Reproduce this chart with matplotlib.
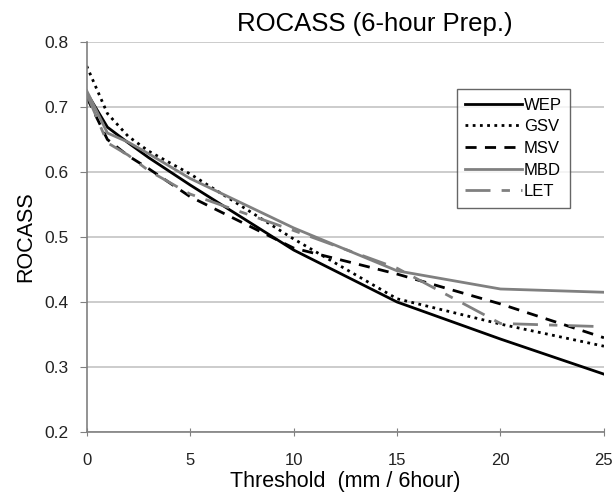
import matplotlib
matplotlib.use('Agg')
import matplotlib.pyplot as plt

plt.rcParams['font.family'] = ['Liberation Sans', 'DejaVu Sans']

# thresholds (mm / 6hour)
thresh = [0, 1, 2, 3, 5, 10, 15, 20, 25]

wep = [0.722, 0.669, 0.645, 0.622, 0.580, 0.480, 0.400, 0.343, 0.289]
gsv = [0.763, 0.690, 0.655, 0.632, 0.597, 0.497, 0.405, 0.366, 0.332]
msv = [0.715, 0.650, 0.625, 0.605, 0.562, 0.483, 0.443, 0.397, 0.345]
mbd = [0.725, 0.660, 0.646, 0.628, 0.590, 0.514, 0.448, 0.420, 0.415]
let = [0.720, 0.645, 0.626, 0.602, 0.566, 0.510, 0.452, 0.367, 0.362]

names = ['WEP', 'GSV', 'MSV', 'MBD', 'LET']
series = [wep, gsv, msv, mbd, let]
colors = ['black', 'black', 'black', '#808080', '#808080']
styles = ['-', (0, (1, 1.6)), (0, (4, 3)), '-', (0, (9, 4, 3, 4))]

fig = plt.figure(figsize=(6.15, 5.0), dpi=100)
ax = fig.add_axes([0.141, 0.136, 0.841, 0.780])

for n, s, c, ls in zip(names, series, colors, styles):
    ax.plot(thresh, s, color=c, linestyle=ls, lw=2, label=n)

ax.set_xlim(0, 25)
ax.set_ylim(0.2, 0.8)
ax.set_xticks([0, 5, 10, 15, 20, 25])
ax.set_yticks([0.2, 0.3, 0.4, 0.5, 0.6, 0.7, 0.8])
ax.set_yticklabels(['0.2', '0.3', '0.4', '0.5', '0.6', '0.7', '0.8'])
ax.yaxis.grid(True, color='#c8c8c8', lw=1.3)
ax.set_axisbelow(True)
for sp in ['top', 'right']:
    ax.spines[sp].set_visible(False)
for sp in ['left', 'bottom']:
    ax.spines[sp].set_color('#808080')
    ax.spines[sp].set_linewidth(1.2)
ax.tick_params(axis='x', direction='inout', length=6, color='#808080', labelsize=12,
               labelcolor='#222222', pad=12)
ax.tick_params(axis='y', direction='out', length=5, color='#808080', labelsize=12.5,
               labelcolor='#222222', pad=8)

ax.set_xlabel('Threshold  (mm / 6hour)', fontsize=15.5, labelpad=2)
ax.set_ylabel('ROCASS', fontsize=15.5, labelpad=6)
fig.text(0.61, 0.953, 'ROCASS (6-hour Prep.)', fontsize=18.5, ha='center', va='center')

leg = ax.legend(loc='upper left', bbox_to_anchor=(0.70, 0.90), fontsize=12,
                frameon=True, fancybox=False, handlelength=3.4, handletextpad=0.1,
                labelspacing=0.4, borderpad=0.5)
leg.get_frame().set_edgecolor('#404040')
leg.get_frame().set_linewidth(1.0)

fig.savefig('out.png', dpi=100)
